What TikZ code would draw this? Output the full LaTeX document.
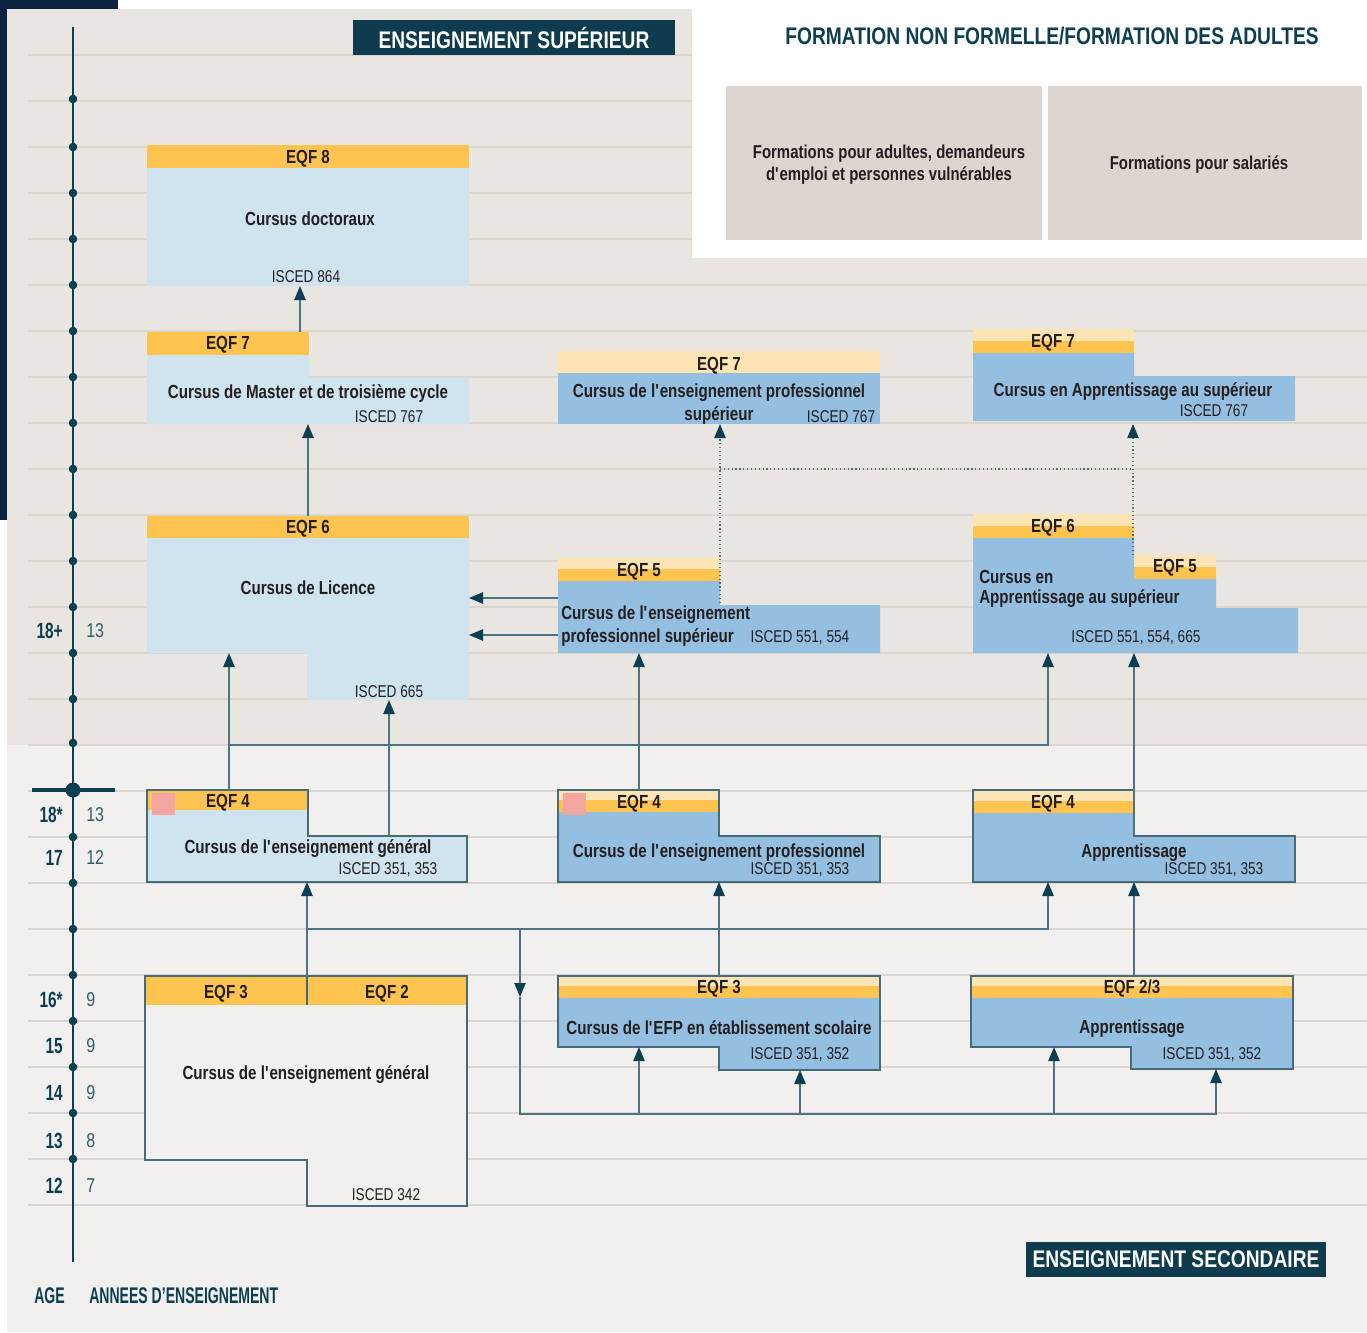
\documentclass[tikz,border=0pt]{standalone}
\usepackage{fontspec}
\setmainfont{Liberation Sans}[FakeStretch=0.8]
\newfontfamily\narrowf{Liberation Sans}[FakeStretch=0.62]
\newfontfamily\agef{Liberation Sans}[FakeStretch=0.7]
\usetikzlibrary{arrows.meta}
\definecolor{navy}{HTML}{0B2340}
\definecolor{beige}{HTML}{E9E5E1}
\definecolor{lowbg}{HTML}{F2F0EE}
\definecolor{gridc}{HTML}{DCD6D0}
\definecolor{dteal}{HTML}{0D3F52}
\definecolor{ttlbg}{HTML}{0E3B4D}
\definecolor{ylw}{HTML}{FEC44F}
\definecolor{lylw}{HTML}{FDE4B5}
\definecolor{lblue}{HTML}{D0E4F0}
\definecolor{mblue}{HTML}{95BFE0}
\definecolor{gbox}{HTML}{DDD5CF}
\definecolor{pinksq}{HTML}{F4A6A0}
\definecolor{linec}{HTML}{4E7482}
\definecolor{outc}{HTML}{456A78}
\definecolor{txt}{HTML}{231F20}
\newcommand{\aq}{\textquotesingle}
\tikzset{
  lbl/.style={font=\bfseries\fontsize{14.2}{16}\selectfont, text=txt, inner sep=0pt, align=center, yshift=-1.2pt},
  lbll/.style={font=\bfseries\fontsize{14.2}{16}\selectfont, text=txt, inner sep=0pt, align=left, anchor=west, yshift=-1.2pt},
  isc/.style={font=\fontsize{12.8}{14}\selectfont, text=txt, inner sep=0pt, yshift=-0.8pt},
  con/.style={draw=linec, line width=1.1pt},
  arr/.style={con, -{Triangle[width=8.5pt,length=10.5pt,color=dteal]}},
  dotc/.style={draw=linec, line width=0.9pt, dotted},
  darr/.style={dotc, -{Triangle[width=8.5pt,length=10.5pt,color=dteal]}},
  outl/.style={draw=outc, line width=0.9pt},
  age/.style={font=\agef\bfseries\fontsize{16.5}{18}\selectfont, text=dteal, inner sep=0pt, anchor=east},
  yr/.style={font=\fontsize{15}{18}\selectfont, text=dteal!85, inner sep=0pt, anchor=west},
  ttl/.style={font=\bfseries\fontsize{18}{20}\selectfont, inner sep=0pt},
  btm/.style={font=\narrowf\bfseries\fontsize{17}{20}\selectfont, text=dteal, inner sep=0pt, anchor=west},
  gtxt/.style={font=\bfseries\fontsize{14}{16.5}\selectfont, text=txt, inner sep=0pt, align=center, yshift=-1.2pt}
}
\begin{document}
\begin{tikzpicture}[x=0.75pt,y=-0.75pt]
\useasboundingbox (0,0) rectangle (1367,1332);
\fill[white] (0,0) rectangle (1367,1332);
% backgrounds
\fill[navy] (0,0) rectangle (118,9);
\fill[navy] (0,0) rectangle (7,520);
\fill[beige] (7,9) rectangle (1367,745);
\fill[lowbg] (7,745) rectangle (1367,1332);
% grid lines
\foreach \yy in {55,101,147,193,239,285,331,377,423,469,515,561,607,653,699,745,791,837,883,929,975,1021,1067,1113,1159,1205}
  \draw[gridc, line width=1.2pt] (28,\yy) -- (1367,\yy);
% non formal box
\fill[white] (692,9) rectangle (1367,258);
\node[ttl, text=dteal] (nfTitle) at (1052,36) {FORMATION NON FORMELLE/FORMATION DES ADULTES};
\fill[gbox] (726,86) rectangle (1042,240);
\fill[gbox] (1048,86) rectangle (1362,240);
\node[gtxt] (nfA) at (889,163) {Formations pour adultes, demandeurs\\d\aq emploi et personnes vulnérables};
\node[gtxt] (nfB) at (1199,163) {Formations pour salariés};
% title boxes
\node[ttl, fill=ttlbg, text=white, minimum width=322*0.75pt, minimum height=35*0.75pt] (supT) at (514,37.5) {ENSEIGNEMENT SUPÉRIEUR};
\node[ttl, fill=ttlbg, text=white, minimum width=300*0.75pt, minimum height=35*0.75pt] (secT) at (1176,1259.5) {ENSEIGNEMENT SECONDAIRE};
% axis
\draw[dteal, line width=1.3pt] (73,27) -- (73,1262);
\foreach \yy in {99,147,193,239,285,331,377,423,469,515,561,607,653,699,743,837,883,929,975,1021,1067,1113,1159}
  \fill[dteal] (73,\yy) circle (4.3);
\draw[dteal, line width=2.5pt] (32,790) -- (115,790);
\fill[dteal] (73,790) circle (7.5);
% ages / years
\node[age] (a1) at (63,631) {18+};
\node[age] (a2) at (63,815) {18*};
\node[age] (a3) at (63,858) {17};
\node[age] (a4) at (63,1000) {16*};
\node[age] (a5) at (63,1046) {15};
\node[age] (a6) at (63,1093) {14};
\node[age] (a7) at (63,1141) {13};
\node[age] (a8) at (63,1186) {12};
\node[yr] (y1) at (86,631) {13};
\node[yr] (y2) at (86,815) {13};
\node[yr] (y3) at (86,858) {12};
\node[yr] (y4) at (86,1000) {9};
\node[yr] (y5) at (86,1046) {9};
\node[yr] (y6) at (86,1093) {9};
\node[yr] (y7) at (86,1141) {8};
\node[yr] (y8) at (86,1186) {7};
\node[btm] (ageL) at (34,1296) {AGE};
\node[btm] (anL) at (89,1296) {ANNEES D’ENSEIGNEMENT};
% ===== boxes upper =====
% EQF 8
\fill[ylw] (147,145) rectangle (469,168);
\fill[lblue] (147,168) rectangle (469,286);
\node[lbl] (e8) at (308,157) {EQF 8};
\node[lbl] (doc) at (310,217) {Cursus doctoraux};
\node[isc] (i864) at (306,276) {ISCED 864};
% EQF 7 general
\fill[ylw] (147,332) rectangle (309,355);
\fill[lblue] (147,355) -- (309,355) -- (309,378) -- (469,378) -- (469,424) -- (147,424) -- cycle;
\node[lbl] (e7g) at (228,343) {EQF 7};
\node[lbl] (mas) at (308,392) {Cursus de Master et de troisième cycle};
\node[isc] (i767g) at (389,416) {ISCED 767};
% EQF 6 general
\fill[ylw] (147,516) rectangle (469,538);
\fill[lblue] (147,538) -- (469,538) -- (469,700) -- (307,700) -- (307,653) -- (147,653) -- cycle;
\node[lbl] (e6g) at (308,527) {EQF 6};
\node[lbl] (lic) at (308,586) {Cursus de Licence};
\node[isc] (i665) at (389,691) {ISCED 665};
% EQF 7 prof
\fill[lylw] (558,351) rectangle (880,373);
\fill[mblue] (558,373) rectangle (880,424);
\node[lbl] (e7p) at (719,364) {EQF 7};
\node[lbl] (p7a) at (719,391) {Cursus de l\aq enseignement professionnel};
\node[lbl] (p7b) at (719,414) {supérieur};
\node[isc] (i767p) at (841,416) {ISCED 767};
% EQF 7 apprentissage
\fill[lylw] (973,329) rectangle (1134,341);
\fill[ylw] (973,341) rectangle (1134,353);
\fill[mblue] (973,353) -- (1134,353) -- (1134,376) -- (1295,376) -- (1295,421) -- (973,421) -- cycle;
\node[lbl] (e7a) at (1053,341) {EQF 7};
\node[lbl] (a7t) at (1133,390) {Cursus en Apprentissage au supérieur};
\node[isc] (i767a) at (1214,410) {ISCED 767};
% EQF 5 prof
\fill[lylw] (558,558) rectangle (720,569);
\fill[ylw] (558,569) rectangle (720,581);
\fill[mblue] (558,581) -- (720,581) -- (720,605) -- (880,605) -- (880,653) -- (558,653) -- cycle;
\node[lbl] (e5p) at (639,570) {EQF 5};
\node[lbll] (p5a) at (561,613) {Cursus de l\aq enseignement};
\node[lbll] (p5b) at (561,636) {professionnel supérieur};
\node[isc] (i551p) at (800,637) {ISCED 551, 554};
% EQF 6/5 apprentissage
\fill[lylw] (973,514) rectangle (1134,526);
\fill[ylw] (973,526) rectangle (1134,538);
\fill[lylw] (1134,555) rectangle (1216,567);
\fill[ylw] (1134,567) rectangle (1216,579);
\fill[mblue] (973,538) -- (1134,538) -- (1134,579) -- (1216,579) -- (1216,608) -- (1298,608) -- (1298,653) -- (973,653) -- cycle;
\node[lbl] (e6a) at (1053,526) {EQF 6};
\node[lbl] (e5a) at (1175,566) {EQF 5};
\node[lbll] (a6a) at (979,575) {Cursus en};
\node[lbll] (a6b) at (979,597) {Apprentissage au supérieur};
\node[isc] (i551a) at (1136,637) {ISCED 551, 554, 665};
% ===== boxes lower =====
% EQF 4 general
\fill[lblue] (147,790) -- (308,790) -- (308,836) -- (467,836) -- (467,882) -- (147,882) -- cycle;
\fill[ylw] (147,790) rectangle (308,810);
\draw[outl] (147,790) -- (308,790) -- (308,836) -- (467,836) -- (467,882) -- (147,882) -- cycle;
\fill[pinksq] (152,793) rectangle (175,815);
\node[lbl] (e4g) at (228,801) {EQF 4};
\node[lbl] (g4) at (308,847) {Cursus de l\aq enseignement général};
\node[isc] (i351g) at (388,869) {ISCED 351, 353};
% EQF 4 prof
\fill[mblue] (558,790) -- (719,790) -- (719,836) -- (880,836) -- (880,882) -- (558,882) -- cycle;
\fill[lylw] (558,790) rectangle (719,800);
\fill[ylw] (558,800) rectangle (719,812);
\draw[outl] (558,790) -- (719,790) -- (719,836) -- (880,836) -- (880,882) -- (558,882) -- cycle;
\fill[pinksq] (563,793) rectangle (586,815);
\node[lbl] (e4p) at (639,802) {EQF 4};
\node[lbl] (p4) at (719,851) {Cursus de l\aq enseignement professionnel};
\node[isc] (i351p) at (800,869) {ISCED 351, 353};
% EQF 4 apprentissage
\fill[mblue] (973,790) -- (1134,790) -- (1134,836) -- (1295,836) -- (1295,882) -- (973,882) -- cycle;
\fill[lylw] (973,790) rectangle (1134,801);
\fill[ylw] (973,801) rectangle (1134,813);
\draw[outl] (973,790) -- (1134,790) -- (1134,836) -- (1295,836) -- (1295,882) -- (973,882) -- cycle;
\node[lbl] (e4a) at (1053,802) {EQF 4};
\node[lbl] (ap4) at (1134,851) {Apprentissage};
\node[isc] (i351a) at (1214,869) {ISCED 351, 353};
% EQF 3/2 general
\fill[lowbg] (145,976) -- (467,976) -- (467,1206) -- (307,1206) -- (307,1160) -- (145,1160) -- cycle;
\fill[ylw] (145,976) rectangle (467,1005);
\draw[outl] (145,976) -- (467,976) -- (467,1206) -- (307,1206) -- (307,1160) -- (145,1160) -- cycle;
\draw[outl] (307,976) -- (307,1005);
\node[lbl] (e3g) at (226,992) {EQF 3};
\node[lbl] (e2g) at (387,992) {EQF 2};
\node[lbl] (g3) at (306,1073) {Cursus de l\aq enseignement général};
\node[isc] (i342) at (386,1194) {ISCED 342};
% EQF 3 prof
\fill[mblue] (558,976) -- (880,976) -- (880,1070) -- (719,1070) -- (719,1047) -- (558,1047) -- cycle;
\fill[lylw] (558,976) rectangle (880,986);
\fill[ylw] (558,986) rectangle (880,998);
\draw[outl] (558,976) -- (880,976) -- (880,1070) -- (719,1070) -- (719,1047) -- (558,1047) -- cycle;
\node[lbl] (e3p) at (719,987) {EQF 3};
\node[lbl] (p3) at (719,1026) {Cursus de l\aq EFP en établissement scolaire};
\node[isc] (i352p) at (800,1054) {ISCED 351, 352};
% EQF 2/3 apprentissage
\fill[mblue] (971,976) -- (1293,976) -- (1293,1069) -- (1131,1069) -- (1131,1047) -- (971,1047) -- cycle;
\fill[lylw] (971,976) rectangle (1293,986);
\fill[ylw] (971,986) rectangle (1293,998);
\draw[outl] (971,976) -- (1293,976) -- (1293,1069) -- (1131,1069) -- (1131,1047) -- (971,1047) -- cycle;
\node[lbl] (e23a) at (1132,987) {EQF 2/3};
\node[lbl] (ap3) at (1132,1027) {Apprentissage};
\node[isc] (i352a) at (1212,1054) {ISCED 351, 352};
% ===== connector coordinates =====
\coordinate (c7gT) at (300,332); \coordinate (c8B) at (300,286);
\coordinate (c6gT) at (308,516); \coordinate (c7gB) at (308,424);
\coordinate (c5pS) at (720,603); \coordinate (c7pB) at (720,424);
\coordinate (cDotL) at (720,469); \coordinate (cDotR) at (1133,469);
\coordinate (c5aT) at (1133,555); \coordinate (c7aB) at (1133,424);
\coordinate (c5pL1) at (558,598); \coordinate (cLicR1) at (469,598);
\coordinate (c5pL2) at (558,635); \coordinate (cLicR2) at (469,635);
\coordinate (c4gT) at (229,790); \coordinate (cLicB1) at (229,653);
\coordinate (c4gS) at (389,836); \coordinate (cLicB2) at (389,700);
\coordinate (cJ1) at (229,745); \coordinate (cJ2) at (1048,745); \coordinate (c6aB1) at (1048,653);
\coordinate (c4pT) at (639,790); \coordinate (c5pB) at (639,653);
\coordinate (c4aS) at (1134,836); \coordinate (c6aB2) at (1134,653);
\coordinate (c3gT) at (307,976); \coordinate (c4gB) at (307,882);
\coordinate (cK1) at (307,929); \coordinate (cK2) at (1048,929); \coordinate (c4aB1) at (1048,882);
\coordinate (cM1) at (520,929); \coordinate (cM2) at (520,997); \coordinate (cM3) at (520,1114);
\coordinate (cM4) at (1216,1114); \coordinate (c23B2) at (1216,1069);
\coordinate (cN1) at (639,1114); \coordinate (c3pB1) at (639,1047);
\coordinate (cN2) at (800,1114); \coordinate (c3pB2) at (800,1070);
\coordinate (cN3) at (1054,1114); \coordinate (c23B1) at (1054,1047);
\coordinate (c3pT) at (719,976); \coordinate (c4pB) at (719,882);
\coordinate (c23T) at (1134,976); \coordinate (c4aB2) at (1134,882);
% ===== connectors =====
\draw[arr] (c7gT) -- (c8B);
\draw[arr] (c6gT) -- (c7gB);
\draw[darr] (c5pS) -- (c7pB);
\draw[dotc] (cDotL) -- (cDotR);
\draw[darr] (c5aT) -- (c7aB);
\draw[arr] (c5pL1) -- (cLicR1);
\draw[arr] (c5pL2) -- (cLicR2);
\draw[arr] (c4gT) -- (cLicB1);
\draw[arr] (c4gS) -- (cLicB2);
\draw[arr] (cJ1) -- (cJ2) -- (c6aB1);
\draw[arr] (c4pT) -- (c5pB);
\draw[arr] (c4aS) -- (c6aB2);
\draw[arr] (c3gT) -- (c4gB);
\draw[arr] (cK1) -- (cK2) -- (c4aB1);
\draw[arr] (cM1) -- (cM2);
\draw[arr] (cM2) -- (cM3) -- (cM4) -- (c23B2);
\draw[arr] (cN1) -- (c3pB1);
\draw[arr] (cN2) -- (c3pB2);
\draw[arr] (cN3) -- (c23B1);
\draw[arr] (c3pT) -- (c4pB);
\draw[arr] (c23T) -- (c4aB2);
\end{tikzpicture}
\end{document}
